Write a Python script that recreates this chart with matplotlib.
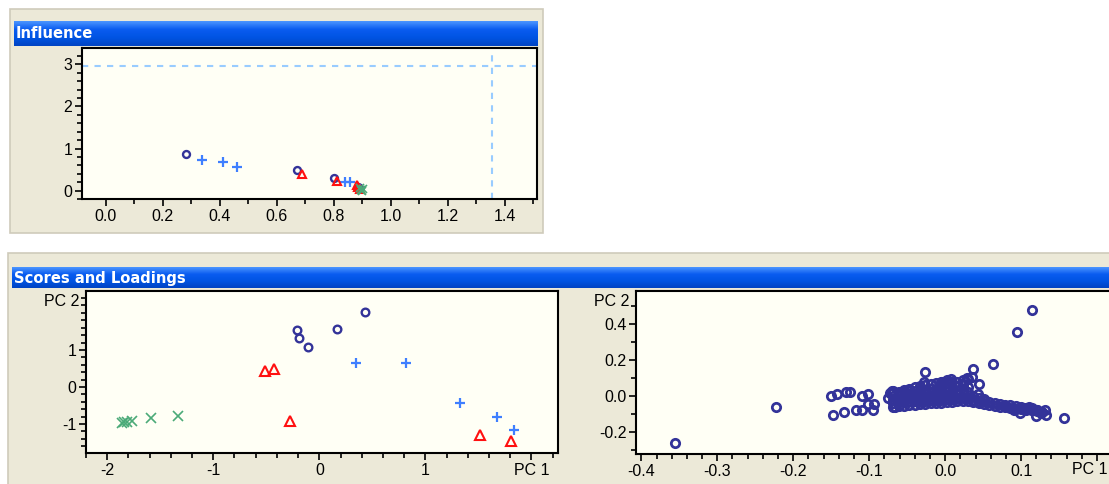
import numpy as np
import matplotlib.pyplot as plt
from matplotlib.patches import Rectangle
from matplotlib.colors import LinearSegmentedColormap
from matplotlib.ticker import MultipleLocator, FixedLocator

plt.rcParams["font.family"] = "Liberation Sans"
plt.rcParams["axes.unicode_minus"] = False

### Influence (x: residual, y: leverage)
infl_circle_x = [0.280, 0.670, 0.801, 0.884, 0.889]
infl_circle_y = [0.87, 0.50, 0.30, 0.09, 0.05]
infl_plus_x = [0.337, 0.411, 0.460, 0.840, 0.858, 0.892]
infl_plus_y = [0.73, 0.69, 0.56, 0.20, 0.20, 0.04]
infl_tri_x = [0.690, 0.812, 0.883, 0.887, 0.892]
infl_tri_y = [0.39, 0.22, 0.13, 0.08, 0.04]
infl_cross_x = [0.893, 0.897, 0.900, 0.903]
infl_cross_y = [0.05, 0.02, 0.00, 0.03]
infl_hline = 2.96
infl_vline = 1.356

### Scores (PC 1 / PC 2)
sc_circle_x = [0.427, 0.164, -0.212, -0.195, -0.106]
sc_circle_y = [2.03, 1.57, 1.54, 1.33, 1.09]
sc_tri_x = [-0.513, -0.424, -0.280, 1.515, 1.805]
sc_tri_y = [0.44, 0.49, -0.92, -1.29, -1.46]
sc_plus_x = [0.342, 0.821, 1.327, 1.675, 1.836]
sc_plus_y = [0.64, 0.64, -0.42, -0.82, -1.17]
sc_cross_x = [-1.856, -1.840, -1.812, -1.768, -1.583, -1.333]
sc_cross_y = [-0.98, -0.95, -0.95, -0.93, -0.84, -0.77]

### Loadings (PC 1 / PC 2), outliers
ld_out_x = [-0.355, -0.223, 0.115, 0.095, 0.0635, 0.037, -0.027, 0.157, 0.045, 0.043,
            -0.150, -0.143, -0.130, -0.125, -0.110, -0.101, -0.147, -0.133, -0.117,
            -0.109, -0.102, -0.093, -0.095]
ld_out_y = [-0.259, -0.062, 0.475, 0.357, 0.178, 0.150, 0.135, -0.122, 0.066, 0.009,
            0.000, 0.010, 0.020, 0.020, 0.000, 0.010, -0.103, -0.088, -0.079,
            -0.079, -0.043, -0.043, -0.079]
# loadings, dense cloud (core and tail)
ld_core_x = [-0.073, -0.075, -0.070, -0.066, -0.060, -0.028, -0.004, 0.008, 0.029, 0.036, 0.024,
             -0.068, -0.068, -0.068, -0.068, -0.068, -0.068,
             -0.061, -0.061, -0.061, -0.061, -0.061,
             -0.054, -0.054, -0.054, -0.054, -0.054, -0.054,
             -0.047, -0.047, -0.047, -0.047, -0.047, -0.047,
             -0.040, -0.040, -0.040, -0.040, -0.040, -0.040,
             -0.033, -0.033, -0.033, -0.033, -0.033, -0.033,
             -0.026, -0.026, -0.026, -0.026, -0.026, -0.026,
             -0.019, -0.019, -0.019, -0.019, -0.019, -0.019,
             -0.012, -0.012, -0.012, -0.012, -0.012, -0.012,
             -0.005, -0.005, -0.005, -0.005, -0.005, -0.005, -0.005,
             0.002, 0.002, 0.002, 0.002, 0.002, 0.002, 0.002,
             0.009, 0.009, 0.009, 0.009, 0.009, 0.009,
             0.016, 0.016, 0.016, 0.016, 0.016, 0.016,
             0.023, 0.023, 0.023, 0.023, 0.023, 0.023,
             0.030, 0.030, 0.030, 0.030, 0.030]
ld_core_y = [0.019, -0.010, 0.030, -0.060, 0.025, 0.075, 0.075, 0.094, 0.098, 0.103, 0.066,
             -0.060, -0.040, -0.020, 0.000, 0.020, 0.030,
             -0.055, -0.035, -0.015, 0.005, 0.025,
             -0.055, -0.035, -0.015, 0.005, 0.025, 0.035,
             -0.050, -0.030, -0.010, 0.010, 0.030, 0.040,
             -0.050, -0.030, -0.010, 0.010, 0.030, 0.050,
             -0.045, -0.025, -0.005, 0.015, 0.035, 0.055,
             -0.045, -0.025, -0.005, 0.015, 0.035, 0.060,
             -0.040, -0.020, 0.000, 0.020, 0.040, 0.065,
             -0.040, -0.020, 0.000, 0.020, 0.040, 0.070,
             -0.040, -0.020, 0.000, 0.020, 0.040, 0.060, 0.080,
             -0.035, -0.015, 0.005, 0.025, 0.045, 0.070, 0.090,
             -0.035, -0.015, 0.005, 0.025, 0.050, 0.075,
             -0.030, -0.010, 0.010, 0.030, 0.055, 0.080,
             -0.030, -0.010, 0.010, 0.035, 0.060, 0.090,
             -0.030, -0.010, 0.020, 0.050, 0.095]
ld_tail_x = [0.037, 0.037, 0.037, 0.044, 0.044, 0.044, 0.051, 0.051, 0.051,
             0.058, 0.058, 0.065, 0.065, 0.072, 0.072, 0.079, 0.079, 0.086, 0.086,
             0.093, 0.093, 0.100, 0.100, 0.107, 0.107, 0.114, 0.114, 0.121, 0.121, 0.128,
             0.091, 0.103, 0.110, 0.114, 0.121, 0.126, 0.133, 0.099, 0.119, 0.131]
ld_tail_y = [-0.035, -0.020, 0.000, -0.040, -0.025, -0.010, -0.045, -0.030, -0.015,
             -0.050, -0.035, -0.055, -0.040, -0.060, -0.045, -0.062, -0.048, -0.066, -0.052,
             -0.070, -0.056, -0.074, -0.060, -0.078, -0.064, -0.080, -0.068, -0.085, -0.075, -0.090,
             -0.075, -0.066, -0.060, -0.079, -0.075, -0.094, -0.103, -0.094, -0.109, -0.079]

W, H = 1109, 484
BEIGE = "#ECE9D8"
PLOT_BG = "#FFFFF5"
C_CIRC, C_PLUS, C_TRI, C_CROSS = "#333399", "#3F7FFF", "#FF1010", "#4BAA78"

fig = plt.figure(figsize=(W / 100, H / 100), dpi=100)
fig.patch.set_facecolor("white")
bg = fig.add_axes([0, 0, 1, 1])
bg.axis("off")
bar_cmap = LinearSegmentedColormap.from_list("bar", ["#4A94FF", "#0A5CF0", "#0054E3", "#0044C4"])


def panel(l, t, r, b):
    bg.add_patch(Rectangle((l, t), r - l, b - t, fc=BEIGE, ec="#CFCBBB", lw=1.2, zorder=1))


def title_bar(l, t, r, b, text):
    ramp = np.linspace(0, 1, 32).reshape(-1, 1)
    bg.imshow(ramp, cmap=bar_cmap, extent=(l, r, b, t), aspect="auto",
              interpolation="bilinear", zorder=2)
    bg.text(l + 2, (t + b) / 2 + 0.5, text, color="white", fontweight="bold", fontsize=10.6,
            family="DejaVu Sans", va="center", ha="left", zorder=3)


def px_axes(l, t, r, b):
    ax = fig.add_axes([l / W, 1 - b / H, (r - l) / W, (b - t) / H])
    ax.set_facecolor(PLOT_BG)
    for s in ax.spines.values():
        s.set_linewidth(1.5)
    ax.tick_params(which="both", direction="out", width=1.2, labelsize=11.5, pad=2)
    ax.tick_params(which="major", length=5)
    ax.tick_params(which="minor", length=3.5)
    return ax


def pc2_label(ax):
    ax.annotate("PC 2", xy=(0, 1), xycoords="axes fraction", xytext=(-7, -11),
                textcoords="offset pixels", ha="right", va="center", fontsize=11.5)


panel(10, 9, 543, 233)
title_bar(14, 21, 538, 46, "Influence")
panel(8, 253, W + 5, H + 5)
title_bar(12, 267, W + 5, 288, "Scores and Loadings")
bg.set_xlim(0, W)
bg.set_ylim(H, 0)

circ = dict(ls="none", marker="o", mfc="none", mec=C_CIRC, mew=1.7)
plus = dict(ls="none", marker="+", mec=C_PLUS, mew=1.6)
tri = dict(ls="none", marker="^", mfc="none", mec=C_TRI, mew=1.5)
cross = dict(ls="none", marker="x", mec=C_CROSS, mew=1.2)

### Influence
ax = px_axes(82, 48, 537, 199)
ax.axhline(infl_hline, color="#99CCFF", lw=1.5, ls=(0, (3, 3)))
ax.axvline(infl_vline, color="#99CCFF", lw=1.5, ls=(0, (3, 3)))
ax.plot(infl_circle_x, infl_circle_y, ms=5, **circ)
ax.plot(infl_plus_x, infl_plus_y, ms=6.5, **plus)
ax.plot(infl_tri_x, infl_tri_y, ms=5.5, **tri)
ax.plot(infl_cross_x, infl_cross_y, ms=5.5, **cross)
ax.set_xlim(-0.084, 1.514)
ax.set_ylim(-0.2, 3.39)
ax.xaxis.set_major_locator(MultipleLocator(0.2))
ax.xaxis.set_minor_locator(MultipleLocator(0.1))
ax.xaxis.set_major_formatter("{x:.1f}")
ax.yaxis.set_major_locator(MultipleLocator(1))
ax.yaxis.set_minor_locator(MultipleLocator(0.2))

### Scores
ax = px_axes(86, 291, 558, 453)
ax.plot(sc_circle_x, sc_circle_y, ms=5.5, **circ)
ax.plot(sc_plus_x, sc_plus_y, ms=7, **plus)
ax.plot(sc_tri_x, sc_tri_y, ms=6.5, **tri)
ax.plot(sc_cross_x, sc_cross_y, ms=6.5, **cross)
ax.set_xlim(-2.20, 2.25)
ax.set_ylim(-1.78, 2.59)
ax.xaxis.set_major_locator(FixedLocator([-2, -1, 0, 1, 2]))
ax.set_xticklabels(["-2", "-1", "0", "1", "PC 1"])
ax.xaxis.set_minor_locator(MultipleLocator(0.2))
ax.yaxis.set_major_locator(FixedLocator([-1, 0, 1]))
ax.set_yticklabels(["-1", "0", "1"])
ax.yaxis.set_minor_locator(MultipleLocator(0.2))
pc2_label(ax)

### Loadings
ax = px_axes(636, 291, 1112, 454)
ld_style = dict(circ, mew=2.0)
ax.plot(ld_core_x, ld_core_y, ms=6, **ld_style)
ax.plot(ld_tail_x, ld_tail_y, ms=6, **ld_style)
ax.plot(ld_out_x, ld_out_y, ms=6, **ld_style)
ax.set_xlim(-0.407, 0.2197)
ax.set_ylim(-0.322, 0.583)
ax.xaxis.set_major_locator(FixedLocator([-0.4, -0.3, -0.2, -0.1, 0.0, 0.1, 0.2]))
ax.set_xticklabels(["-0.4", "-0.3", "-0.2", "-0.1", "0.0", "0.1", ""])
ax.xaxis.set_minor_locator(MultipleLocator(0.02))
ax.yaxis.set_major_locator(FixedLocator([-0.2, 0.0, 0.2, 0.4]))
ax.set_yticklabels(["-0.2", "0.0", "0.2", "0.4"])
ax.yaxis.set_minor_locator(MultipleLocator(0.1))
# PC 1 sits where the 0.2 label would be, flush with the window edge
fig.text((W - 1) / W, 1 - 470 / H, "PC 1", ha="right", va="center", fontsize=11.5)
pc2_label(ax)

fig.savefig("out.png", dpi=100, facecolor=fig.get_facecolor())
